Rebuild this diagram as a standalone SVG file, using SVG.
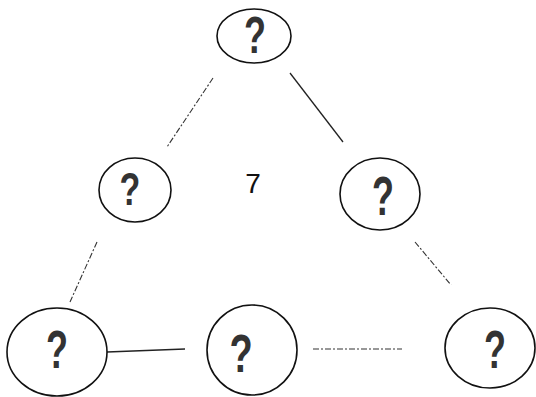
<svg xmlns="http://www.w3.org/2000/svg" width="536" height="397" viewBox="0 0 536 397">
<style>
.n{fill:none;stroke:#111;stroke-width:1.6}
.q{font-family:"Liberation Sans",Arial,sans-serif;font-weight:bold;font-size:40px;fill:#333;text-anchor:middle}
.e{fill:none;stroke:#222;stroke-width:1.3}
.d{fill:none;stroke:#333;stroke-width:1.1;stroke-dasharray:6 2 2 2}
.t{font-family:"Liberation Sans",Arial,sans-serif;font-size:28px;fill:#111;text-anchor:middle}
</style>
<rect width="536" height="397" fill="#fff"/>
<g id="edges">
<path class="d" d="M213,78 L167,147"/>
<path class="e" d="M290,73 L343,142"/>
<path class="d" d="M97,242 L70,302"/>
<path class="d" d="M415,242 L451,285"/>
<path class="e" d="M107,352 L185,349"/>
<path class="d" d="M313,349 L402,349"/>
</g>
<g id="n1"><ellipse class="n" cx="254" cy="36" rx="37" ry="27"/><text class="q" transform="translate(255,53) scale(0.9,1.3)">?</text></g>
<g id="n2"><ellipse class="n" cx="135" cy="190" rx="36" ry="32"/><text class="q" transform="translate(130,205) scale(0.85,1.15)">?</text></g>
<g id="n3"><ellipse class="n" cx="380" cy="194" rx="40" ry="36"/><text class="q" transform="translate(383,215) scale(0.9,1.4)">?</text></g>
<g id="n4"><ellipse class="n" cx="57" cy="352" rx="50" ry="44"/><text class="q" transform="translate(57,368) scale(0.9,1.35)">?</text></g>
<g id="n5"><ellipse class="n" cx="252" cy="350" rx="45" ry="45"/><text class="q" transform="translate(241,372) scale(0.95,1.35)">?</text></g>
<g id="n6"><ellipse class="n" cx="490" cy="348" rx="45" ry="40"/><text class="q" transform="translate(495,368) scale(0.9,1.35)">?</text></g>
<text id="label" class="t" x="253" y="193">7</text>
</svg>
